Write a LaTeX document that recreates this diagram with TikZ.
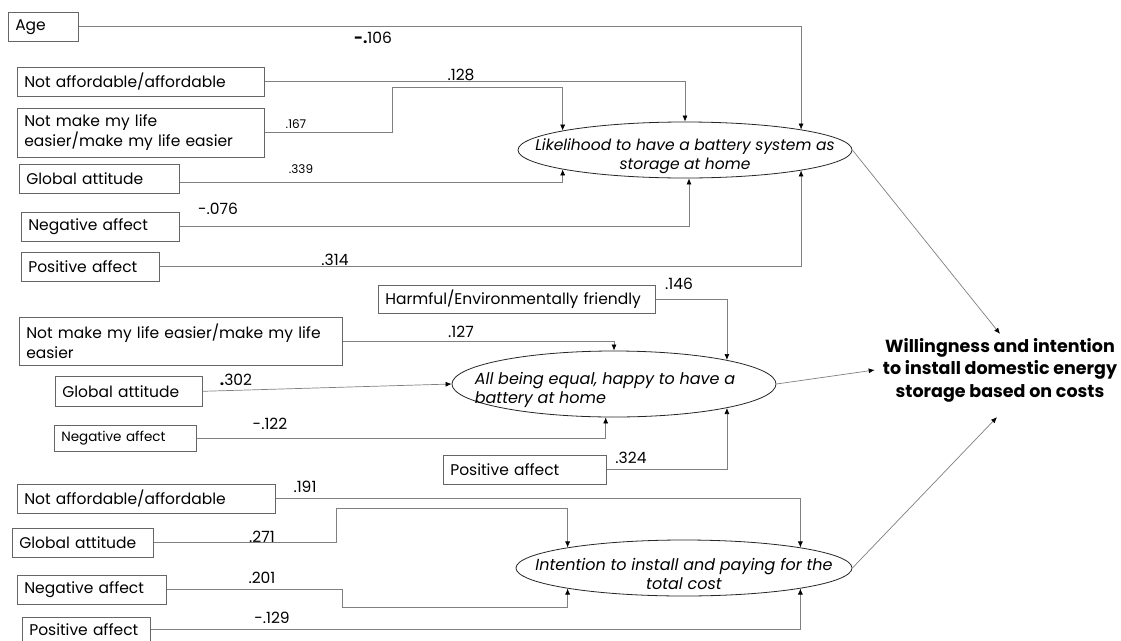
\documentclass[tikz,border=0pt]{standalone}
\usepackage{fontspec}
\setmainfont{Poppins}
\usepackage{tikz}
\usetikzlibrary{arrows.meta,shapes.geometric}
\tikzset{>={Latex[length=6pt,width=5pt,color=black]}}
\tikzset{
  var/.style={draw=gray!80!black, line width=0.6pt, anchor=north west, inner xsep=7pt, inner ysep=0pt, align=left, font=\fontsize{15.5}{20}\selectfont},
  lat/.style={draw=black!85, line width=0.8pt, ellipse, inner sep=0pt},
  lbl/.style={font=\itshape\fontsize{16}{19.5}\selectfont, align=center, yshift=-6pt},
  link/.style={draw=gray, line width=0.7pt, ->},
  coef/.style={font=\fontsize{15.5}{17}\selectfont, inner sep=0pt},
  smallcoef/.style={font=\fontsize{12}{13}\selectfont, inner sep=0pt}
}

\begin{document}
\begin{tikzpicture}[x=1pt,y=-1pt]
        \useasboundingbox (0,0) rectangle (1121,640);
        \fill[white] (0,0) rectangle (1121,640);

        % likelihood block
        \node[var, text width=56pt, minimum height=29pt] (age) at (8,12) {Age};
        \node[var, text width=233pt, minimum height=29pt] (naA) at (17,67) {Not affordable/affordable};
        \node[var, text width=233pt, minimum height=49pt] (nmlA) at (17,108) {Not make my life\\easier/make my life easier};
        \node[var, text width=146pt, minimum height=29pt] (gaA) at (19,164) {Global attitude};
        \node[var, text width=144pt, minimum height=29pt] (negA) at (21,212) {Negative affect};
        \node[var, text width=124pt, minimum height=29pt] (posA) at (21,252) {Positive affect};
        \node[lat, minimum width=334pt, minimum height=56pt,
              label={[lbl, font=\itshape\fontsize{15.5}{19.5}\selectfont]center:Likelihood to have a battery system as\\storage at home}] (lik) at (685,150) {};

        % happy block
        \node[var, text width=263pt, minimum height=28pt] (harm) at (378,285) {Harmful/Environmentally friendly};
        \node[var, text width=309pt, minimum height=48pt] (nmlB) at (19,317) {Not make my life easier/make my life\\easier};
        \node[var, text width=133pt, minimum height=30pt] (gaB) at (55,376) {Global attitude};
        \node[var, text width=128pt, minimum height=26pt, font=\fontsize{13.5}{15}\selectfont] (negB) at (54,425) {Negative affect};
        \node[var, text width=149pt, minimum height=29pt] (posB) at (443,455) {Positive affect};
        \node[lat, minimum width=324pt, minimum height=66pt,
              label={[lbl, align=left, xshift=-9pt]center:All being equal, happy to have a\\battery at home}] (hap) at (614,384) {};

        % intention block
        \node[var, text width=244pt, minimum height=29pt] (naC) at (17,484) {Not affordable/affordable};
        \node[var, text width=127pt, minimum height=29pt] (gaC) at (12,528) {Global attitude};
        \node[var, text width=135pt, minimum height=29pt] (negC) at (17,575) {Negative affect};
        \node[var, text width=114pt, minimum height=25pt] (posC) at (22,617) {Positive affect};
        \node[lat, minimum width=336pt, minimum height=56pt,
              label={[lbl]center:Intention to install and paying for the\\total cost}] (inst) at (684,568) {};

        \node[font=\bfseries\fontsize{17.5}{22.5}\selectfont, align=center, inner xsep=8pt, inner ysep=4pt] (will) at (1000,370)
              {Willingness and intention\\to install domestic energy\\storage based on costs};

        % paths
        \draw[link] (age.east) -| (lik.10);
        \draw[link] (naA.east) -| (lik.north);
        \draw[link] (nmlA.east) -| (392,87) -| (lik.171);
        \draw[link] ([yshift=-3.5pt]gaA.east) -| (lik.189);
        \draw[link] (negA.east) -| (lik.278);
        \draw[link] (posA.east) -| (lik.350);
        \draw[link] (lik.east) -- (will.north);

        \draw[link] (harm.east) -| (hap.12);
        \draw[link] (nmlB.east) -| (hap.north);
        \draw[link] (gaB.east) -- (hap.west);
        \draw[link] (negB.east) -| (hap.256);
        \draw[link] (posB.east) -| (hap.348);
        \draw[link] (hap.east) -- (will.west);

        \draw[link] (naC.east) -| (inst.10);
        \draw[link] (gaC.east) -| (336,508) -| (inst.170);
        \draw[link] (negC.east) -| (342,607) -| (inst.190);
        \draw[link] (posC.east) -| (inst.350);
        \draw[link] (inst.east) -- ([xshift=-3pt,yshift=-11pt]will.south);

        % coefficients
        \node[coef] (cAge) at (373,38) {\textbf{-.}106};
        \node[coef] (cNaA) at (461,75) {.128};
        \node[smallcoef] (cNmlA) at (296,124) {.167};
        \node[smallcoef] (cGaA) at (301,169) {.339};
        \node[coef] (cNegA) at (218,209) {-.076};
        \node[coef] (cPosA) at (335,260) {.314};
        \node[coef] (cHarm) at (679,284) {.146};
        \node[coef] (cNmlB) at (461,332) {.127};
        \node[coef] (cGaB) at (236,380) {\textbf{.}302};
        \node[coef] (cNegB) at (270,424) {-.122};
        \node[coef] (cPosB) at (631,458) {.324};
        \node[coef] (cNaC) at (305,487) {.191};
        \node[coef] (cGaC) at (262,537) {.271};
        \node[coef] (cNegC) at (262,578) {.201};
        \node[coef] (cPosC) at (272,618) {-.129};
\end{tikzpicture}
\end{document}
